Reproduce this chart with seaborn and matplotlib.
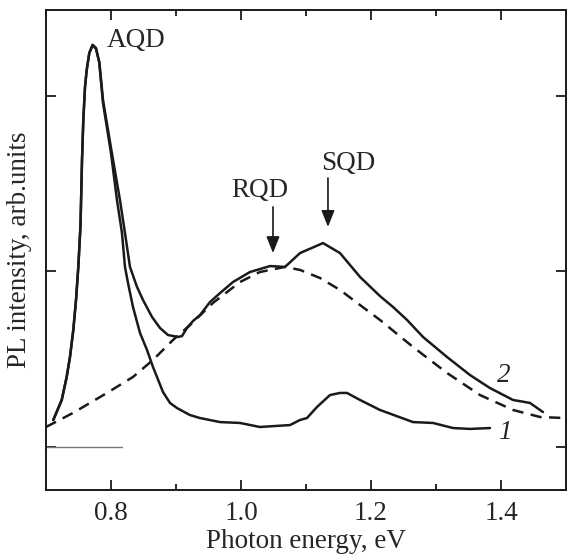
import matplotlib
matplotlib.use("Agg")
import matplotlib.pyplot as plt
import seaborn as sns
import pandas as pd
from matplotlib.ticker import MultipleLocator

# ---- data ----
curve1_x = [0.7112, 0.7242, 0.7318, 0.7369, 0.7420, 0.7462, 0.7497, 0.7531, 0.7554,
            0.7574, 0.7600, 0.7626, 0.7666, 0.7718, 0.7769, 0.7820, 0.7877, 0.8000,
            0.8092, 0.8169, 0.8215, 0.8262, 0.8338, 0.8446, 0.8554, 0.8646, 0.8800,
            0.8908, 0.9015, 0.9215, 0.9370, 0.9677, 0.9985, 1.0290, 1.0754, 1.0908,
            1.1015, 1.1169, 1.1369, 1.1523, 1.1631, 1.1831, 1.2138, 1.2646, 1.2954,
            1.3262, 1.3523, 1.3831]
curve1_y = [0.154, 0.268, 0.399, 0.513, 0.667, 0.838, 1.026, 1.265, 1.635,
            1.863, 2.051, 2.148, 2.245, 2.291, 2.274, 2.188, 1.960, 1.675,
            1.407, 1.219, 1.026, 0.934, 0.798, 0.650, 0.553, 0.456, 0.313,
            0.251, 0.222, 0.182, 0.165, 0.142, 0.137, 0.114, 0.125, 0.154,
            0.165, 0.228, 0.296, 0.308, 0.308, 0.268, 0.211, 0.142, 0.137,
            0.108, 0.103, 0.108]

curve2_x = [0.7112, 0.7242, 0.7318, 0.7369, 0.7420, 0.7462, 0.7497, 0.7531, 0.7554,
            0.7574, 0.7600, 0.7626, 0.7666, 0.7718, 0.7769, 0.7820, 0.7877, 0.8000,
            0.8138, 0.8215, 0.8292, 0.8400, 0.8492, 0.8631, 0.8754, 0.8877, 0.9031,
            0.9092, 0.9169, 0.9262, 0.9370, 0.9523, 0.9677, 0.9877, 1.0138, 1.0446,
            1.0677, 1.0908, 1.1262, 1.1523, 1.1831, 1.2138, 1.2338, 1.2554, 1.2800,
            1.3169, 1.3523, 1.3830, 1.4185, 1.4446, 1.4646]
curve2_y = [0.154, 0.268, 0.399, 0.513, 0.667, 0.838, 1.026, 1.265, 1.635,
            1.863, 2.051, 2.148, 2.245, 2.291, 2.268, 2.194, 1.977, 1.704,
            1.407, 1.219, 1.026, 0.912, 0.838, 0.741, 0.678, 0.638, 0.627,
            0.632, 0.678, 0.718, 0.752, 0.826, 0.877, 0.940, 0.997, 1.031,
            1.026, 1.105, 1.162, 1.105, 0.969, 0.860, 0.798, 0.724, 0.627,
            0.513, 0.410, 0.336, 0.268, 0.251, 0.199]

fit_x = [0.700, 0.7415, 0.7938, 0.8338, 0.8646, 0.8954, 0.9215, 0.9569, 0.9985,
         1.029, 1.0677, 1.0908, 1.1215, 1.1523, 1.1831, 1.2138, 1.2646, 1.3169,
         1.3677, 1.4185, 1.460, 1.4985]
fit_y = [0.114, 0.194, 0.308, 0.399, 0.496, 0.610, 0.695, 0.821, 0.940,
         0.997, 1.026, 1.009, 0.963, 0.895, 0.809, 0.724, 0.570, 0.422,
         0.296, 0.211, 0.171, 0.165]

baseline_x = [0.700, 0.8175]
baseline_y = [0.0, 0.0]

x_ticks = [0.8, 1.0, 1.2, 1.4]
x_ticklabels = ["0.8", "1.0", "1.2", "1.4"]
y_ticks = [0, 1, 2]

# ---- styling ----
sns.set_theme(style="ticks")
plt.rcParams["font.family"] = ["Liberation Serif", "DejaVu Serif"]

FS = 19.5
fig = plt.figure(figsize=(5.68, 5.55), dpi=100)
ax = fig.add_axes([46 / 568, 65 / 555, 520 / 568, 480 / 555])

df1 = pd.DataFrame({"x": curve1_x, "y": curve1_y})
df2 = pd.DataFrame({"x": curve2_x, "y": curve2_y})
dff = pd.DataFrame({"x": fit_x, "y": fit_y})
dfb = pd.DataFrame({"x": baseline_x, "y": baseline_y})

sns.lineplot(data=dfb, x="x", y="y", ax=ax, color="#777777", lw=1.0,
             estimator=None, sort=False)
sns.lineplot(data=dff, x="x", y="y", ax=ax, color="#1a1a1a", lw=1.8,
             linestyle=(0, (4.5, 3)), estimator=None, sort=False)
sns.lineplot(data=df2, x="x", y="y", ax=ax, color="#1a1a1a", lw=1.8,
             estimator=None, sort=False)
sns.lineplot(data=df1, x="x", y="y", ax=ax, color="#1a1a1a", lw=1.8,
             estimator=None, sort=False)

ax.set_xlim(0.7, 1.5)
ax.set_ylim(-0.245, 2.49)
ax.set_xticks(x_ticks)
ax.set_xticklabels(x_ticklabels)
ax.xaxis.set_minor_locator(MultipleLocator(0.1))
ax.set_yticks(y_ticks)
ax.set_yticklabels([])
ax.tick_params(which="both", direction="in", top=True, right=True,
               width=1.3, color="#1a1a1a", labelsize=FS, pad=8)
ax.tick_params(which="major", length=7)
ax.tick_params(which="minor", length=4.5)
for s in ax.spines.values():
    s.set_linewidth(1.4)
    s.set_color("#1a1a1a")

ax.set_xlabel("Photon energy, eV", fontsize=FS, labelpad=2)
ax.set_ylabel("PL intensity, arb.units", fontsize=FS)
ax.yaxis.set_label_coords(-0.026, 0.5)

ax.text(0.794, 2.319, "AQD", fontsize=FS, ha="left", va="center")
ax.text(1.0285, 1.464, "RQD", fontsize=FS, ha="center", va="center")
ax.text(1.1646, 1.618, "SQD", fontsize=FS, ha="center", va="center")
ax.annotate("", xy=(1.0492, 1.105), xytext=(1.0492, 1.368),
            arrowprops=dict(arrowstyle="-|>,head_length=0.5,head_width=0.2",
                            color="#1a1a1a", lw=1.2,
                            mutation_scale=20, shrinkA=0, shrinkB=0))
ax.annotate("", xy=(1.1338, 1.254), xytext=(1.1338, 1.533),
            arrowprops=dict(arrowstyle="-|>,head_length=0.5,head_width=0.2",
                            color="#1a1a1a", lw=1.2,
                            mutation_scale=20, shrinkA=0, shrinkB=0))
ax.text(1.406, 0.080, "1", fontsize=FS, style="italic", ha="center", va="center")
ax.text(1.4046, 0.410, "2", fontsize=FS, style="italic", ha="center", va="center")

fig.savefig("out.png", dpi=100)
